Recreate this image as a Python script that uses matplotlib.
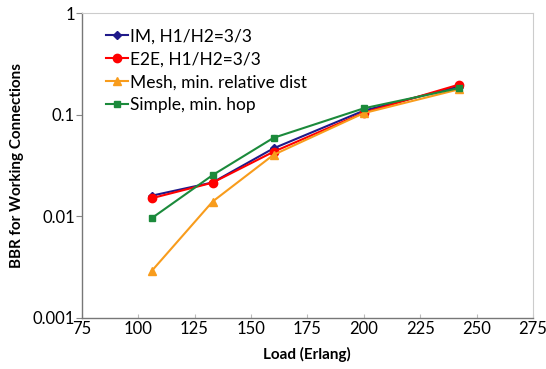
import matplotlib
matplotlib.use("Agg")
import matplotlib.pyplot as plt
from matplotlib.ticker import FixedLocator, NullLocator, FixedFormatter

plt.rcParams['font.family'] = ['Lato', 'DejaVu Sans']

load = [106, 133, 160, 200, 242]
im = [0.016, 0.0216, 0.0468, 0.11, 0.19]
e2e = [0.0151, 0.0215, 0.0433, 0.105, 0.198]
mesh = [0.0029, 0.014, 0.0404, 0.104, 0.178]
simple = [0.0096, 0.0255, 0.0594, 0.116, 0.183]

labels = ["IM, H1/H2=3/3", "E2E, H1/H2=3/3", "Mesh, min. relative dist", "Simple, min. hop"]
xticks = [75, 100, 125, 150, 175, 200, 225, 250, 275]
yticks = [0.001, 0.01, 0.1, 1]
ytick_labels = ["0.001", "0.01", "0.1", "1"]

fig = plt.figure(figsize=(5.46, 3.69), dpi=100)
ax = fig.add_axes([81.7/546, 1-318/369, (533-81.7)/546, (318-13.3)/369])

ax.plot(load, im, color='#201a8a', marker='D', markersize=4, lw=1.5, label=labels[0])
ax.plot(load, e2e, color='#ff0000', marker='o', markersize=6, lw=1.5, label=labels[1])
ax.plot(load, mesh, color='#f89c1c', marker='^', markersize=6, lw=1.5, label=labels[2])
ax.plot(load, simple, color='#1b8a3b', marker='s', markersize=5, lw=1.5, label=labels[3])

ax.set_yscale('log')
ax.set_xlim(75, 275)
ax.set_ylim(0.001, 1)
ax.xaxis.set_major_locator(FixedLocator(xticks))
ax.yaxis.set_major_locator(FixedLocator(yticks))
ax.yaxis.set_major_formatter(FixedFormatter(ytick_labels))
ax.yaxis.set_minor_locator(NullLocator())
ax.tick_params(axis='x', direction='in', length=3, color='#bbbbbb', labelsize=12, pad=2)
ax.tick_params(axis='y', direction='out', length=4, color='#888888', labelsize=12, pad=1)

for s in ['left', 'bottom']:
    ax.spines[s].set_color('#777777')
    ax.spines[s].set_linewidth(1.0)
for s in ['top', 'right']:
    ax.spines[s].set_color('#cccccc')
    ax.spines[s].set_linewidth(0.8)

ax.set_xlabel("Load (Erlang)", fontsize=11, fontweight='bold', labelpad=7)
ax.set_ylabel("BBR for Working Connections", fontsize=11, fontweight='bold', labelpad=6)

ax.legend(loc='upper left', bbox_to_anchor=(0.03, 0.985), frameon=False, fontsize=12.5,
          handlelength=1.3, handletextpad=0.1, labelspacing=0.4, borderaxespad=0.2)

fig.savefig("out.png", dpi=100)
